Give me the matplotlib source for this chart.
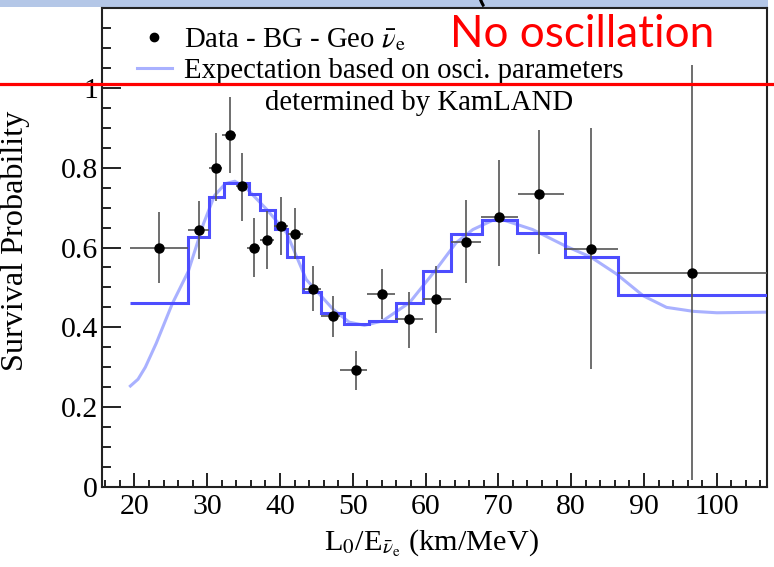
import matplotlib
matplotlib.use("Agg")
import matplotlib.pyplot as plt
from matplotlib.lines import Line2D
from matplotlib.patches import Rectangle
import numpy as np

# ---- data ----
x_data = [23.4, 28.9, 31.2, 33.1, 34.75, 36.4, 38.2, 40.1, 42.1, 44.5,
          47.35, 50.5, 54.05, 57.7, 61.45, 65.5, 70.1, 75.6, 82.7, 96.6]
y_data = [0.598, 0.643, 0.800, 0.882, 0.753, 0.599, 0.620, 0.653, 0.634, 0.497,
          0.428, 0.292, 0.483, 0.420, 0.471, 0.614, 0.677, 0.735, 0.596, 0.537]
x_lo = [19.45, 27.4, 30.3, 32.1, 34.0, 35.5, 37.2, 39.2, 41.1, 43.2,
        45.6, 48.3, 52.0, 55.8, 59.6, 63.5, 67.6, 72.7, 79.0, 86.4]
x_hi = [27.4, 30.3, 32.1, 34.0, 35.5, 37.2, 39.2, 41.1, 43.2, 45.6,
        48.3, 52.0, 55.8, 59.6, 63.5, 67.6, 72.7, 79.0, 86.4, 108.0]
y_lo = [0.510, 0.570, 0.716, 0.787, 0.666, 0.527, 0.547, 0.581, 0.570, 0.440,
        0.376, 0.243, 0.420, 0.349, 0.387, 0.510, 0.553, 0.583, 0.295, 0.018]
y_hi = [0.688, 0.716, 0.888, 0.977, 0.837, 0.675, 0.691, 0.727, 0.700, 0.553,
        0.478, 0.340, 0.547, 0.489, 0.553, 0.718, 0.820, 0.895, 0.899, 1.057]

hist_edges = [19.45, 27.3, 30.2, 32.3, 35.7, 37.3, 39.3, 40.9, 43.2, 45.7, 48.8,
              52.2, 55.9, 59.6, 63.5, 67.7, 72.6, 79.1, 86.4, 106.9]
hist_vals = [0.460, 0.627, 0.727, 0.762, 0.735, 0.695, 0.647, 0.577, 0.489, 0.436,
             0.409, 0.416, 0.462, 0.541, 0.634, 0.668, 0.636, 0.577, 0.482]

curve_x = [19.45, 20.5, 21.5, 23.0, 25.2, 27.4, 29.5, 31.0, 32.5, 33.8, 35.4,
           38.2, 40.9, 43.6, 47.3, 49.5, 51.6, 54.1, 57.8, 61.45, 64.2, 66.5,
           69.2, 70.5, 74.7, 79.3, 82.7, 86.2, 89.9, 93.1, 96.8, 100.0, 106.9]
curve_y = [0.253, 0.270, 0.300, 0.360, 0.459, 0.540, 0.660, 0.730, 0.760, 0.766, 0.748,
           0.695, 0.637, 0.520, 0.445, 0.413, 0.405, 0.416, 0.462, 0.545, 0.612, 0.645,
           0.668, 0.670, 0.645, 0.603, 0.576, 0.534, 0.479, 0.450, 0.440, 0.4365, 0.438]

x_ticks = [20, 30, 40, 50, 60, 70, 80, 90, 100]
y_ticks = [0, 0.2, 0.4, 0.6, 0.8, 1.0]
y_ticklabels = ["0", "0.2", "0.4", "0.6", "0.8", "1"]

# ---- style ----
plt.rcParams['font.family'] = ['Liberation Serif', 'DejaVu Serif']
plt.rcParams['mathtext.fontset'] = 'stix'

W, H = 774, 567
fig = plt.figure(figsize=(W / 100, H / 100), dpi=100)
fig.patch.set_facecolor('white')

# slide band at top
fig.add_artist(Rectangle((0, 1 - 7 / H), 768 / W, 7 / H, transform=fig.transFigure,
                         facecolor='#b4c7e7', edgecolor='none', zorder=0))

ax = fig.add_axes([102 / W, 1 - 487 / H, (767 - 102) / W, (487 - 8) / H])
ax.set_xlim(15.55, 106.9)
ax.set_ylim(0, 1.2)

ax.plot(curve_x, curve_y, color='#a9b1ff', lw=2.2, zorder=2)
ax.stairs(hist_vals, hist_edges, baseline=None, color='#4d4dff', lw=2.2, zorder=3)

xd = np.array(x_data); yd = np.array(y_data)
xerr = [xd - np.array(x_lo), np.array(x_hi) - xd]
yerr = [yd - np.array(y_lo), np.array(y_hi) - yd]
ax.errorbar(xd, yd, xerr=xerr, yerr=yerr, fmt='o', color='black', ms=6.5,
            ecolor='#555555', elinewidth=1.2, capsize=0, zorder=4)

ax.set_xticks(x_ticks)
ax.set_xticks(np.arange(16, 107, 2), minor=True)
ax.set_yticks(y_ticks)
ax.set_yticklabels(y_ticklabels)
ax.set_yticks(np.arange(0, 1.2, 0.05), minor=True)
ax.tick_params(axis='both', which='both', direction='in', top=False, right=False,
               width=1.4, color='#222222', labelsize=21.5)
ax.tick_params(axis='y', which='major', length=13.5, pad=3)
ax.tick_params(axis='y', which='minor', length=6.5)
ax.tick_params(axis='x', which='major', length=10, pad=5)
ax.tick_params(axis='x', which='minor', length=5)
for s in ax.spines.values():
    s.set_linewidth(1.5)
    s.set_color('#222222')

ax.set_ylabel('Survival Probability', fontsize=23.2)
ax.yaxis.set_label_coords(-0.131, 0.514)
ax.yaxis.label.set_va('center')
ax.set_xlabel(r'L$_0$/E$_{\bar{\nu}_\mathrm{e}}$ (km/MeV)', fontsize=21.8)
ax.xaxis.set_label_coords(0.496, -0.117)
ax.xaxis.label.set_va('center')

h1 = Line2D([], [], marker='o', ls='none', color='black', ms=6)
h2 = Line2D([], [], color='#a9b1ff', lw=2.2)
leg = ax.legend([h1, h2], [r'Data - BG - Geo $\bar{\nu}_\mathrm{e}$',
                           'Expectation based on osci. parameters'],
                loc='upper left', bbox_to_anchor=(137 / W, 1 - 26 / H),
                bbox_transform=fig.transFigure, frameon=False, fontsize=20.7,
                borderpad=0, borderaxespad=0, handlelength=1.2, handletextpad=0.45,
                labelspacing=0.18)
fig.text(265 / W, 1 - 110 / H, 'determined by KamLAND', fontsize=20.7,
         ha='left', va='baseline')

# red annotation
fig.add_artist(Line2D([0, 1], [1 - 84 / H, 1 - 84 / H], transform=fig.transFigure,
                      color='#ff0000', lw=2.3, zorder=10))
fig.text(450 / W, 1 - 47 / H, 'No oscillation', color='#ff0000', fontsize=31.7,
         family='Lato', ha='left', va='baseline', zorder=10)
fig.text(474 / W, 1 - 1 / H, '(', color='black', fontsize=30, family='Lato',
         ha='left', va='baseline', zorder=1)

fig.savefig('out.png', dpi=100)
